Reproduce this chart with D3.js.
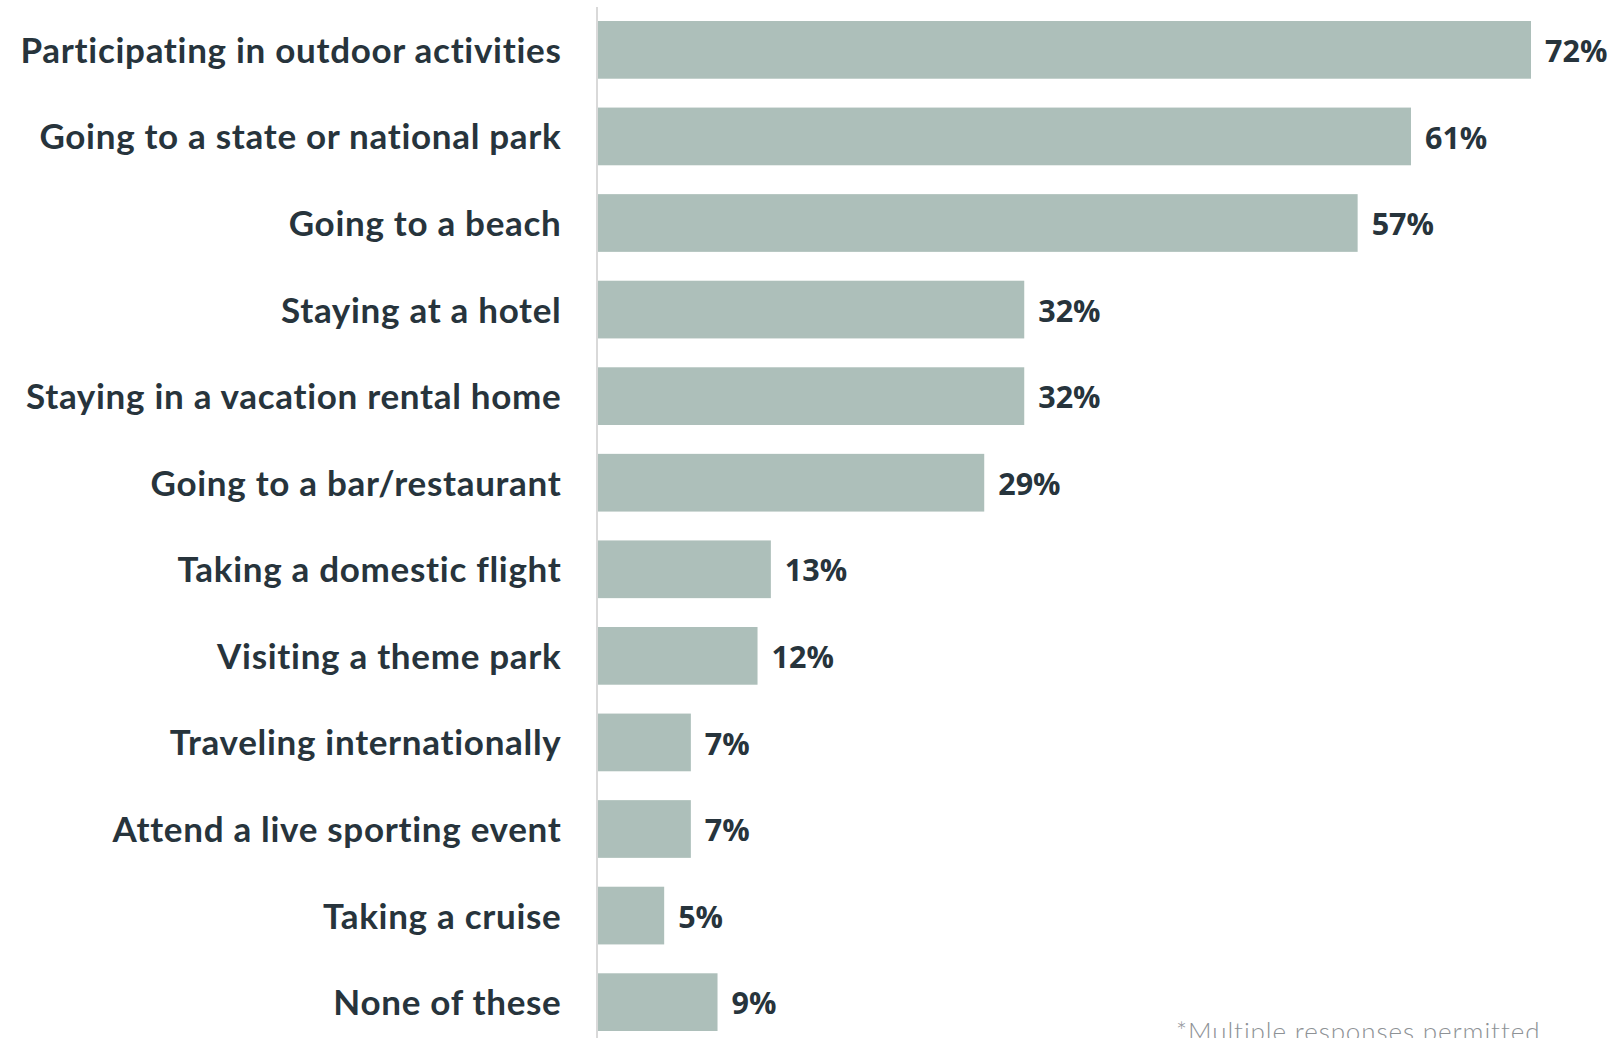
<!DOCTYPE html>
<html>
<head>
<meta charset="utf-8">
<script src="https://cdn.jsdelivr.net/npm/d3@7/dist/d3.min.js"></script>
<style>
  html, body { margin: 0; padding: 0; background: #ffffff; }
  svg { display: block; }
</style>
</head>
<body>
<svg id="chart" width="1613" height="1038"></svg>
<script>
// Travel activities planned (share of respondents)
const categories = [
  "Participating in outdoor activities",
  "Going to a state or national park",
  "Going to a beach",
  "Staying at a hotel",
  "Staying in a vacation rental home",
  "Going to a bar/restaurant",
  "Taking a domestic flight",
  "Visiting a theme park",
  "Traveling internationally",
  "Attend a live sporting event",
  "Taking a cruise",
  "None of these"
];
const values = [72, 61, 57, 32, 32, 29, 13, 12, 7, 7, 5, 9];
const valueLabels = values.map(v => v + "%");
const axisMax = 70;
const footnote = "*Multiple responses permitted";

const svg = d3.select("#chart");
const W = 1613, H = 1038;
const plotLeft = 597.5, plotRight = 1531;

const textColor = "#27343c";
const barColor = "#adbfba";

// Value axis is capped at 70%; longer bars stop at the plot edge
const x = d3.scaleLinear().domain([0, axisMax]).range([plotLeft, plotRight]).clamp(true);
const y = d3.scaleBand().domain(categories).range([21, 1031]).paddingInner(1 / 3).paddingOuter(0);

const data = categories.map((c, i) => ({ cat: c, value: values[i], label: valueLabels[i] }));

// bars
svg.append("g").selectAll("rect")
  .data(data)
  .join("rect")
  .attr("x", x(0))
  .attr("y", d => y(d.cat))
  .attr("width", d => x(d.value) - x(0))
  .attr("height", y.bandwidth())
  .attr("fill", barColor);

// vertical baseline
svg.append("line")
  .attr("x1", 597).attr("x2", 597)
  .attr("y1", 7).attr("y2", H)
  .attr("stroke", "#d9d9d9")
  .attr("stroke-width", 2);

// category labels
const yAxis = svg.append("g")
  .attr("transform", `translate(${plotLeft},0)`)
  .call(d3.axisLeft(y).tickSize(0).tickPadding(36));
yAxis.select(".domain").remove();
yAxis.selectAll("text")
  .attr("fill", textColor)
  .attr("font-family", "Lato, 'Noto Sans', sans-serif")
  .attr("font-weight", 700)
  .attr("font-size", 35)
  .attr("letter-spacing", "0.7px")
  .attr("dy", "0.37em");

// value labels
svg.append("g").selectAll("text")
  .data(data)
  .join("text")
  .attr("x", d => x(d.value) + 14)
  .attr("y", d => y(d.cat) + y.bandwidth() / 2)
  .attr("dy", "0.4em")
  .attr("fill", textColor)
  .attr("font-family", "'Open Sans', Lato, sans-serif")
  .attr("font-weight", 700)
  .attr("font-size", 30.5)
  .text(d => d.label);

// footnote
svg.append("text")
  .attr("x", 1176)
  .attr("y", 1041)
  .attr("fill", "#8e9296")
  .attr("font-family", "Lato, sans-serif")
  .attr("font-weight", 300)
  .attr("font-size", 26)
  .attr("letter-spacing", "0.9px")
  .text(footnote);
</script>
</body>
</html>
